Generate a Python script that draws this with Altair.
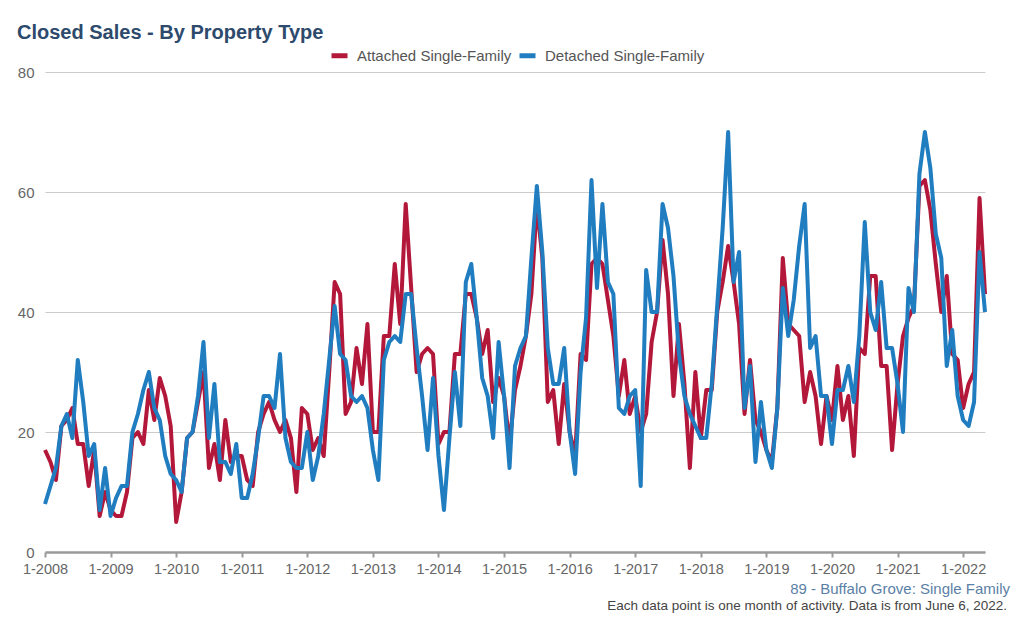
import altair as alt
import pandas as pd

START_YEAR = 2008
series_names = ["Attached Single-Family", "Detached Single-Family"]

attached = [17, 15, 12, 21, 22, 24, 18, 18, 11, 17, 6, 10,
            7, 6, 6, 10, 19, 20, 18, 27, 22, 29, 26, 21,
            5, 10, 19, 20, 25, 30, 14, 18, 12, 22, 15, 16,
            16, 12, 11, 20, 23, 25, 22, 20, 22, 19, 10, 24,
            23, 17, 19, 16, 30, 45, 43, 23, 25, 34, 28, 38,
            20, 20, 36, 36, 48, 38, 58, 44, 30, 33, 34, 33,
            18, 20, 20, 33, 33, 43, 43, 39, 33, 37, 25, 29,
            26, 18, 27, 31, 36, 43, 58, 49, 25, 27, 18, 28,
            20, 16, 33, 32, 48, 49, 48, 42, 36, 26, 32, 23,
            26, 20, 23, 35, 40, 52, 43, 26, 38, 28, 14, 30,
            19, 27, 27, 40, 45, 51, 45, 38, 23, 32, 22, 20,
            17, 15, 24, 49, 38, 37, 36, 25, 30, 26, 18, 26,
            22, 31, 22, 26, 16, 34, 33, 46, 46, 31, 31, 17,
            28, 36, 39, 41, 61, 62, 57, 48, 40, 46, 33, 32,
            24, 28, 30, 59, 43]

detached = [8, 11, 14, 21, 23, 19, 32, 25, 16, 18, 7, 14,
            6, 9, 11, 11, 20, 23, 27, 30, 24, 22, 16, 13,
            12, 10, 19, 20, 26, 35, 19, 28, 15, 15, 13, 18,
            9, 9, 13, 19, 26, 26, 24, 33, 19, 15, 14, 14,
            20, 12, 16, 23, 32, 41, 33, 32, 26, 25, 26, 24,
            17, 12, 32, 35, 36, 35, 43, 43, 34, 26, 17, 29,
            16, 7, 19, 30, 21, 45, 48, 39, 29, 26, 19, 35,
            26, 14, 31, 34, 36, 49, 61, 50, 34, 28, 28, 34,
            20, 13, 30, 39, 62, 44, 58, 45, 43, 24, 23, 26,
            27, 11, 47, 40, 40, 58, 54, 46, 33, 26, 23, 21,
            19, 19, 28, 41, 54, 70, 45, 50, 24, 31, 15, 25,
            17, 14, 24, 44, 36, 42, 51, 58, 34, 36, 26, 26,
            18, 27, 27, 31, 25, 36, 55, 40, 37, 45, 34, 34,
            28, 20, 44, 40, 63, 70, 64, 53, 49, 31, 37, 26,
            22, 21, 25, 50, 40]

tick_years = list(range(2008, 2023))
y_ticks = [0, 20, 40, 60, 80]

rows = []
for name, vals in zip(series_names, [attached, detached]):
    for i, v in enumerate(vals):
        rows.append({"m": i,
                     "month": f"{(i % 12) + 1}-{START_YEAR + i // 12}",
                     "type": name, "sales": v})
df = pd.DataFrame(rows)

FONT = "Liberation Sans"
W, H = 940, 480

lines = alt.Chart(df).mark_line(strokeWidth=4, strokeJoin="round").encode(
    x=alt.X("m:Q", title=None,
            scale=alt.Scale(domain=[0, len(attached) - 1], nice=False, zero=False),
            axis=alt.Axis(values=[(y - START_YEAR) * 12 for y in tick_years],
                          labelExpr=f"'1-' + ({START_YEAR} + datum.value / 12)",
                          labelFlush=False, labelOverlap=False,
                          grid=False, domainColor="#9a9a9a", domainWidth=2.5,
                          tickColor="#9a9a9a", tickWidth=2, tickSize=5,
                          labelFont=FONT, labelFontSize=14.5, labelColor="#666666",
                          labelPadding=5)),
    y=alt.Y("sales:Q", title=None,
            scale=alt.Scale(domain=[0, 80], nice=False),
            axis=alt.Axis(values=y_ticks, grid=True, gridColor="#cccccc", gridWidth=1,
                          domain=False, ticks=False, labelFont=FONT, labelFontSize=15,
                          labelColor="#666666", labelPadding=11)),
    color=alt.Color("type:N", title=None,
                    scale=alt.Scale(domain=series_names, range=["#b3173a", "#1f7dc0"]),
                    legend=alt.Legend(orient="none", legendX=284, legendY=-27,
                                      direction="horizontal", symbolType="stroke",
                                      symbolStrokeWidth=5, symbolSize=256,
                                      labelFont=FONT, labelFontSize=15, labelColor="#555555",
                                      labelOffset=7, columnPadding=-3)),
    detail="type:N",
)

title = alt.Chart(pd.DataFrame({"t": ["Closed Sales - By Property Type"]})).mark_text(
    align="left", baseline="alphabetic", font=FONT, fontSize=20, fontWeight="bold",
    color="#2d4a6c").encode(x=alt.value(-28), y=alt.value(-33), text="t:N")

foot1 = alt.Chart(pd.DataFrame({"t": ["89 - Buffalo Grove: Single Family"]})).mark_text(
    align="right", baseline="alphabetic", font=FONT, fontSize=15,
    color="#5b7fa6").encode(x=alt.value(965), y=alt.value(522), text="t:N")

foot2 = alt.Chart(pd.DataFrame({"t": ["Each data point is one month of activity. Data is from June 6, 2022."]})).mark_text(
    align="right", baseline="alphabetic", font=FONT, fontSize=13.5,
    color="#444444").encode(x=alt.value(962), y=alt.value(538), text="t:N")

chart = alt.layer(lines, title, foot1, foot2).properties(
    width=W, height=H,
    autosize=alt.AutoSizeParams(type="none"),
    padding={"left": 37, "top": 64, "right": 28, "bottom": 62},
).configure(background="white").configure_view(stroke=None)

chart.save("out.html", embed_options={"renderer": "svg", "actions": False})
